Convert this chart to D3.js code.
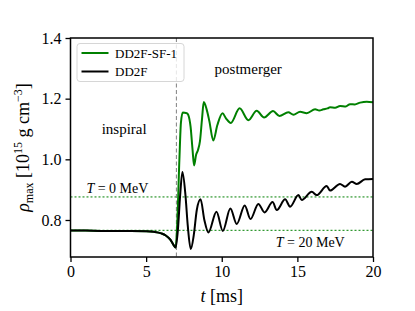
<!DOCTYPE html>
<html>
<head>
<meta charset="utf-8">
<script src="https://cdn.jsdelivr.net/npm/d3@7"></script>
<style>
  body { margin: 0; background: #fff; }
  svg text { font-family: "Liberation Serif", serif !important; fill: #000; }
</style>
</head>
<body>
<div id="chart"></div>
<script>
// pre-merger evolution (shared by both runs)
const preT   = [0, 1, 2, 3, 4, 5, 5.5, 6, 6.3, 6.6, 6.8, 6.95];
const preRho = [0.765, 0.765, 0.764, 0.764, 0.764, 0.763, 0.761, 0.756, 0.749, 0.735, 0.719, 0.709];

// DD2F post-merger
const dd2fT   = [7.1, 7.25, 7.4, 7.6, 7.75, 7.95, 8.15, 8.35, 8.6, 8.85, 9.12, 9.65, 10.07, 10.57, 10.99, 11.52, 11.9, 12.42, 12.83, 13.36, 13.64, 14.19, 14.52, 15.07, 15.29, 15.95, 16.28, 16.94, 17.16, 17.82, 18.15, 18.6, 18.93, 19.48, 20];
const dd2fRho = [0.767, 0.882, 0.958, 0.882, 0.783, 0.704, 0.750, 0.833, 0.868, 0.800, 0.759, 0.827, 0.764, 0.838, 0.787, 0.848, 0.803, 0.853, 0.825, 0.859, 0.833, 0.868, 0.844, 0.882, 0.866, 0.893, 0.882, 0.912, 0.897, 0.919, 0.910, 0.926, 0.919, 0.934, 0.935];

// DD2F-SF-1 post-merger
const sfT   = [7.05, 7.2, 7.3, 7.42, 7.69, 7.79, 7.94, 8.07, 8.17, 8.3, 8.43, 8.56, 8.7, 8.81, 9.01, 9.18, 9.44, 9.71, 10.05, 10.28, 10.6, 11.18, 11.76, 12.31, 12.8, 13.39, 13.81, 14.4, 14.74, 15.18, 15.62, 16.17, 16.45, 16.72, 17.0, 17.16, 17.5, 17.82, 18.2, 18.48, 18.8, 19.15, 19.59, 20];
const sfRho = [0.78, 1.0, 1.12, 1.154, 1.152, 1.146, 1.107, 1.031, 0.980, 1.014, 1.031, 1.060, 1.136, 1.189, 1.163, 1.126, 1.062, 1.113, 1.152, 1.135, 1.120, 1.168, 1.129, 1.160, 1.138, 1.159, 1.143, 1.155, 1.147, 1.157, 1.152, 1.165, 1.161, 1.165, 1.168, 1.172, 1.170, 1.176, 1.174, 1.182, 1.181, 1.187, 1.190, 1.188];

const xTicks = [0, 5, 10, 15, 20];
const yTicks = [0.8, 1.0, 1.2, 1.4];
const tMerger = 7.0;
const tempLines = [{ rho: 0.876, label: "0" }, { rho: 0.766, label: "20" }];

const W = 415, H = 311;
const margin = { top: 38, right: 42, bottom: 54, left: 70.5 };
const width = W - margin.left - margin.right,
      height = H - margin.top - margin.bottom;
const serif = "Liberation Serif";

const svg = d3.select("#chart").append("svg")
    .attr("width", W).attr("height", H);
const g = svg.append("g")
    .attr("transform", `translate(${margin.left},${margin.top})`);

const x = d3.scaleLinear().domain([0, 20]).range([0, width]);
const y = d3.scaleLinear().domain([0.678, 1.4]).range([height, 0]);

const toPts = (ts, vs) => ts.map((t, i) => [t, vs[i]]);
const pre = toPts(preT, preRho);
const black = pre.concat(toPts(dd2fT, dd2fRho));
const green = pre.concat(toPts(sfT, sfRho));

const line = d3.line()
    .x(d => x(d[0])).y(d => y(d[1]))
    .curve(d3.curveMonotoneX);

g.append("defs").append("clipPath").attr("id", "clip")
  .append("rect").attr("width", width).attr("height", height);

// temperature reference lines
tempLines.forEach(d => {
    g.append("line")
        .attr("x1", 0).attr("x2", width)
        .attr("y1", y(d.rho)).attr("y2", y(d.rho))
        .attr("stroke", "green").attr("stroke-width", 1)
        .attr("stroke-dasharray", "2,2");
});

// merger marker
g.append("line")
    .attr("x1", x(tMerger)).attr("x2", x(tMerger))
    .attr("y1", 0).attr("y2", height)
    .attr("stroke", "#808080").attr("stroke-width", 1)
    .attr("stroke-dasharray", "4,2.5");

const curves = g.append("g").attr("clip-path", "url(#clip)");
curves.append("path").datum(green)
    .attr("d", line).attr("fill", "none")
    .attr("stroke", "green").attr("stroke-width", 2);
curves.append("path").datum(black)
    .attr("d", line).attr("fill", "none")
    .attr("stroke", "black").attr("stroke-width", 2);

// annotations
g.append("text").attr("x", x(3.55)).attr("y", y(1.085))
    .attr("text-anchor", "middle").attr("font-size", 15).text("inspiral");
g.append("text").attr("x", x(11.75)).attr("y", y(1.28))
    .attr("text-anchor", "middle").attr("font-size", 15).text("postmerger");

const tLab0 = g.append("text").attr("x", x(3.1)).attr("y", y(0.876) - 4)
    .attr("text-anchor", "middle").attr("font-size", 14);
tLab0.append("tspan").attr("font-style", "italic").text("T");
tLab0.append("tspan").text(" = 0 MeV");
const tLab20 = g.append("text").attr("x", x(15.85)).attr("y", y(0.766) + 17)
    .attr("text-anchor", "middle").attr("font-size", 14);
tLab20.append("tspan").attr("font-style", "italic").text("T");
tLab20.append("tspan").text(" = 20 MeV");

// axes
const xAxis = g.append("g").attr("transform", `translate(0,${height})`)
    .call(d3.axisBottom(x).tickValues(xTicks).tickSize(5).tickPadding(4));
const yAxis = g.append("g")
    .call(d3.axisLeft(y).tickValues(yTicks).tickFormat(d3.format(".1f")).tickSize(5).tickPadding(4));
[xAxis, yAxis].forEach(a => {
    a.attr("font-family", serif);
    a.selectAll("text").attr("font-size", 16).attr("fill", "#000");
    a.selectAll("line").attr("stroke-width", 1.3);
    a.select(".domain").remove();
});

g.append("rect").attr("width", width).attr("height", height)
    .attr("fill", "none").attr("stroke", "#000").attr("stroke-width", 1.5);

// axis labels
const xl = svg.append("text")
    .attr("x", margin.left + width / 2).attr("y", 302)
    .attr("text-anchor", "middle").attr("font-size", 18);
xl.append("tspan").attr("font-style", "italic").text("t");
xl.append("tspan").text(" [ms]");

const yl = svg.append("text")
    .attr("transform", `translate(29,${margin.top + height / 2}) rotate(-90)`)
    .attr("text-anchor", "middle").attr("font-size", 18);
yl.append("tspan").attr("font-style", "italic").text("ρ");
yl.append("tspan").attr("font-size", 12).attr("dy", 4).text("max");
yl.append("tspan").attr("dy", -4).text(" [10");
yl.append("tspan").attr("font-size", 12).attr("dy", -7).text("15");
yl.append("tspan").attr("dy", 7).text(" g cm");
yl.append("tspan").attr("font-size", 12).attr("dy", -7).text("−3");
yl.append("tspan").attr("dy", 7).text("]");

// legend
const leg = g.append("g").attr("transform", "translate(6.5,5.5)");
leg.append("rect").attr("width", 107).attr("height", 38).attr("rx", 3)
    .attr("fill", "#fff").attr("fill-opacity", 0.8)
    .attr("stroke", "#d6d6d6").attr("stroke-width", 1);
const items = [{ name: "DD2F-SF-1", color: "green" }, { name: "DD2F", color: "black" }];
items.forEach((d, i) => {
    const yy = 9.5 + i * 18.5;
    leg.append("line").attr("x1", 4.5).attr("x2", 31.5).attr("y1", yy).attr("y2", yy)
        .attr("stroke", d.color).attr("stroke-width", 2);
    leg.append("text").attr("x", 38).attr("y", yy + 4.5)
        .attr("font-family", serif).attr("font-size", 13).text(d.name);
});

svg.selectAll("text").attr("font-family", serif);
</script>
</body>
</html>
